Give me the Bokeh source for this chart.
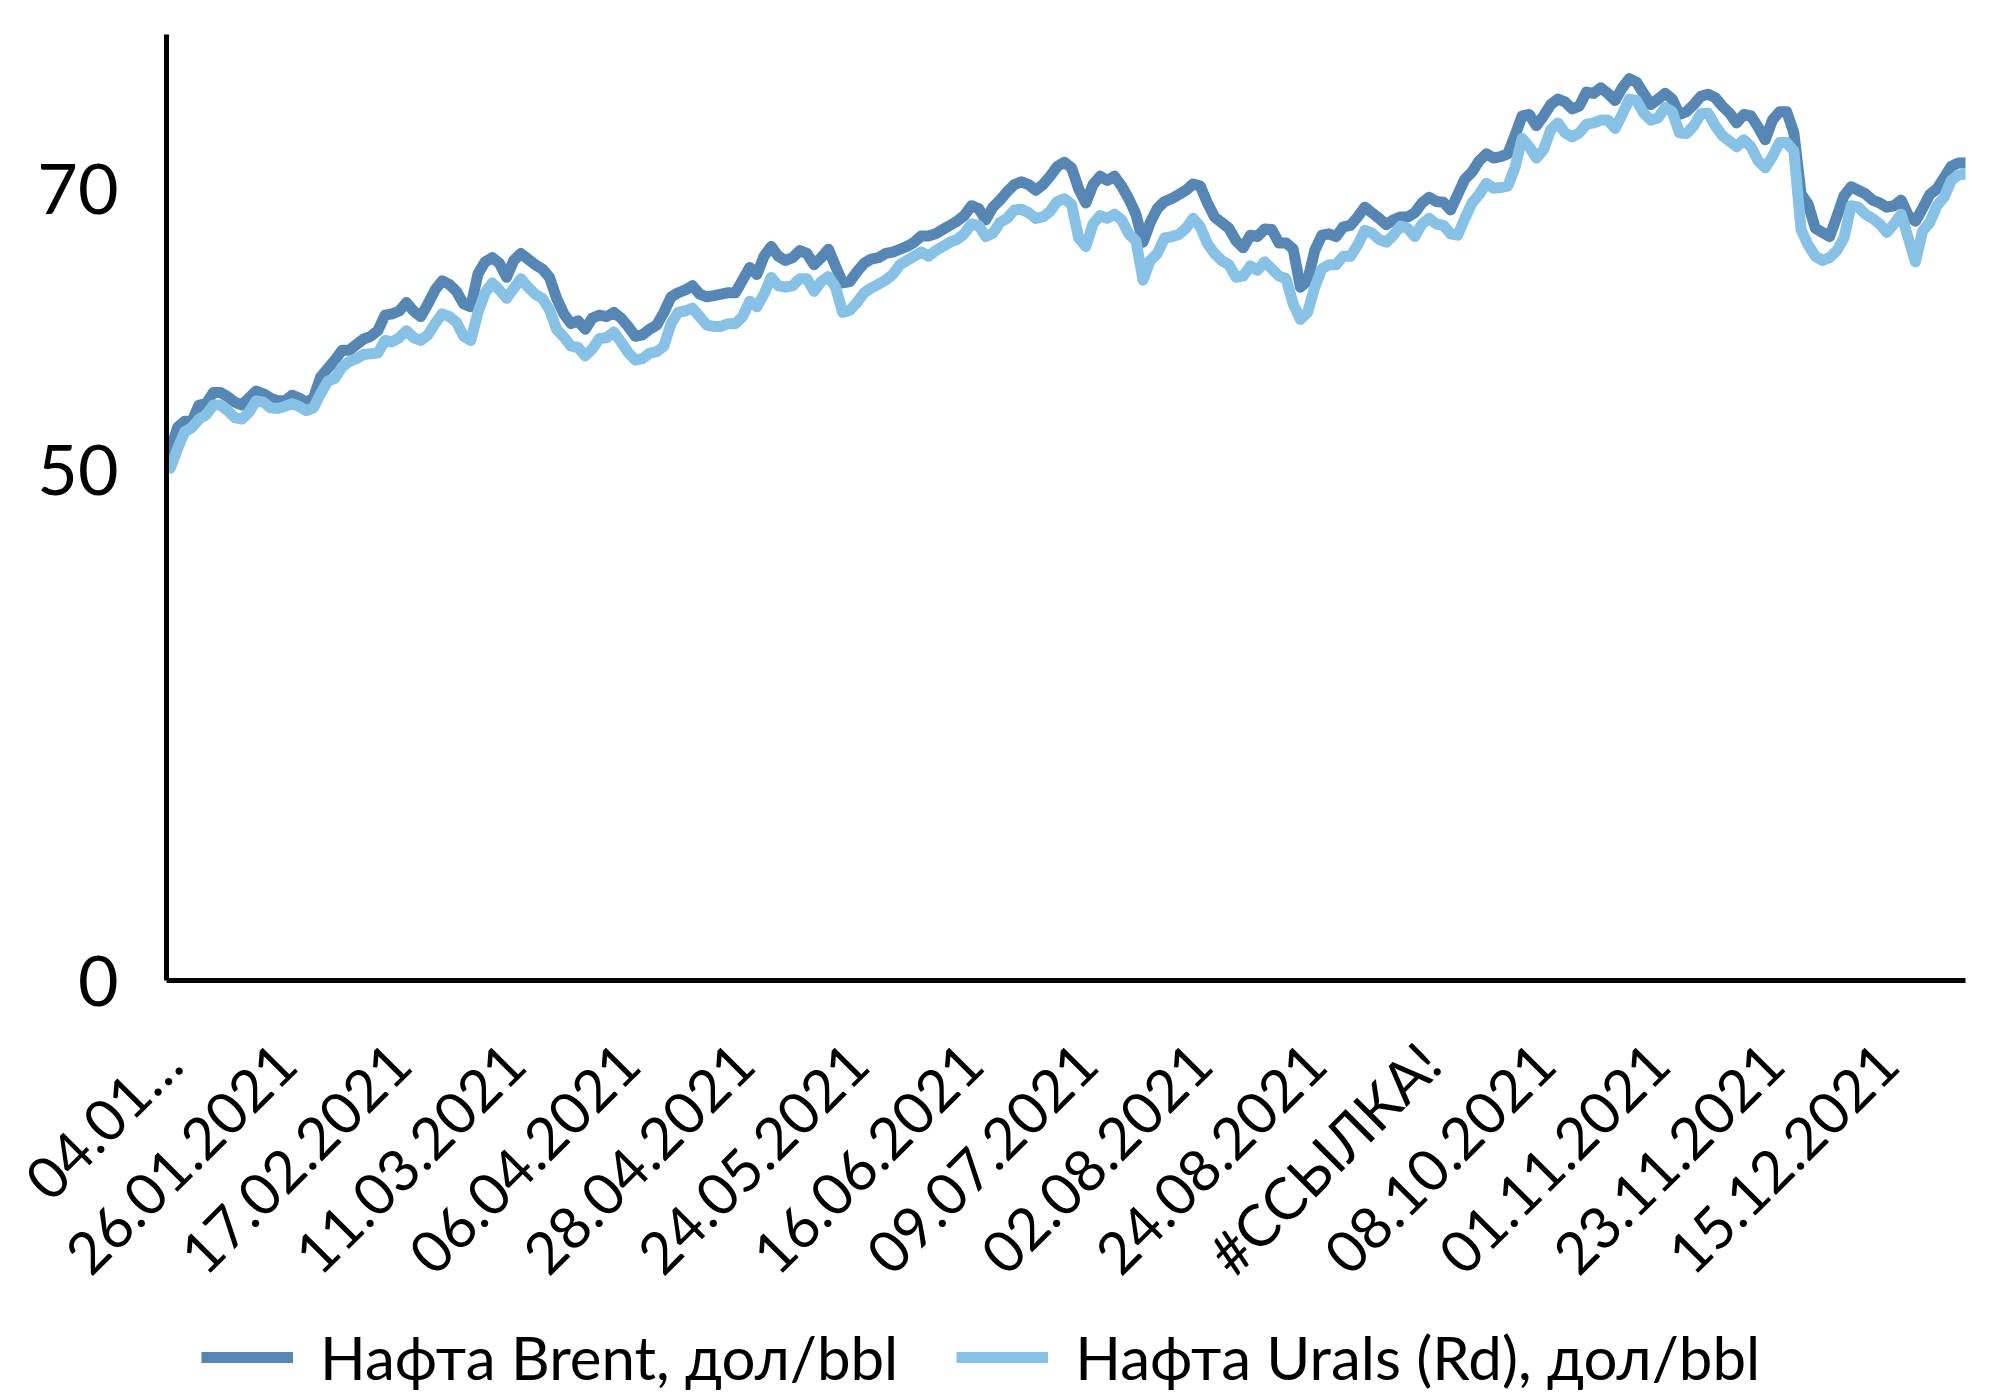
from math import pi
from bokeh.plotting import figure
from bokeh.layouts import column
from bokeh.models import Range1d, FixedTicker, Legend, LegendItem, ColumnDataSource
from bokeh.embed import file_html
from bokeh.resources import INLINE

# ---- data ----
tick_labels = ["04.01…", "26.01.2021", "17.02.2021", "11.03.2021", "06.04.2021",
               "28.04.2021", "24.05.2021", "16.06.2021", "09.07.2021", "02.08.2021",
               "24.08.2021", "#ССЫЛКА!", "08.10.2021", "01.11.2021", "23.11.2021",
               "15.12.2021"]
tick_step = 16

brent = [
    51.35, 53.0, 53.45, 53.45, 54.6, 54.7, 55.5, 55.5, 55.2, 54.8,
    54.6, 55.1, 55.6, 55.4, 55.1, 54.9, 54.9, 55.3, 55.1, 54.8,
    55.1, 56.6, 57.2, 57.8, 58.5, 58.5, 58.9, 59.3, 59.5, 59.9,
    61.0, 61.1, 61.3, 61.9, 61.3, 60.9, 61.8, 62.8, 63.45, 63.2,
    62.7, 61.8, 61.6, 63.95, 64.8, 65.1, 64.7, 63.7, 64.9, 65.4,
    65.0, 64.6, 64.3, 63.7, 62.2, 61.1, 60.4, 60.6, 60.0, 60.8,
    61.0, 60.9, 61.2, 60.8, 60.2, 59.5, 59.6, 60.0, 60.3, 61.2,
    62.3, 62.6, 62.8, 63.1, 62.5, 62.3, 62.4, 62.5, 62.6, 62.6,
    63.5, 64.4, 63.9, 65.2, 65.9, 65.2, 64.9, 65.1, 65.6, 65.4,
    64.6, 65.1, 65.7, 64.5, 63.3, 63.4, 64.1, 64.7, 65.0, 65.1,
    65.4, 65.5, 65.7, 65.9, 66.2, 66.65, 66.65, 66.8, 67.1, 67.4,
    67.7, 68.1, 68.8, 68.6, 67.8, 68.7, 69.2, 69.8, 70.3, 70.5,
    70.3, 69.9, 70.3, 70.9, 71.6, 71.9, 71.5, 70.0, 69.0, 70.3,
    70.9, 70.6, 70.9, 70.2, 69.3, 68.2, 66.2, 67.6, 68.6, 69.1,
    69.3, 69.6, 69.9, 70.35, 70.2, 69.0, 68.0, 67.6, 67.2, 66.3,
    65.8, 66.7, 66.6, 67.15, 67.1, 66.15, 66.15, 65.7, 63.0, 63.45,
    65.6, 66.7, 66.8, 66.6, 67.3, 67.4, 68.0, 68.7, 68.3, 67.9,
    67.45, 67.8, 68.0, 68.0, 68.3, 69.0, 69.4, 69.1, 69.05, 68.5,
    69.6, 70.7, 71.2, 72.0, 72.5, 72.2, 72.3, 72.5, 73.8, 75.2,
    75.3, 74.5, 75.2, 76.0, 76.4, 76.2, 75.7, 75.9, 76.9, 76.8,
    77.2, 76.8, 76.3, 77.2, 77.85, 77.6, 76.8, 76.0, 76.4, 76.8,
    76.4, 75.3, 75.5, 76.0, 76.6, 76.75, 76.5, 75.9, 75.4, 74.7,
    75.3, 75.2, 74.4, 73.5, 74.9, 75.5, 75.5, 74.0, 69.65, 68.9,
    67.2, 66.9, 66.6, 68.0, 69.5, 70.15, 69.9, 69.65, 69.2, 69.0,
    68.7, 68.8, 69.2, 68.1, 67.7, 68.6, 69.6, 70.0, 70.8, 71.6,
    71.85, 71.85,
]

urals = [
    50.1, 51.5, 52.7, 53.0, 53.6, 53.9, 54.6, 54.6, 54.2, 53.7,
    53.6, 54.1, 54.9, 54.8, 54.4, 54.35, 54.5, 54.7, 54.5, 54.2,
    54.4, 55.4, 56.3, 56.5, 57.3, 57.7, 57.9, 58.2, 58.25, 58.3,
    59.2, 59.1, 59.4, 59.9, 59.4, 59.2, 59.6, 60.4, 61.1, 60.9,
    60.5, 59.5, 59.2, 61.2, 62.6, 63.3, 62.8, 62.2, 62.9, 63.6,
    63.0, 62.5, 62.2, 61.4, 60.0, 59.45, 58.8, 58.7, 58.1, 58.6,
    59.35, 59.4, 59.8, 59.1, 58.35, 57.8, 57.9, 58.3, 58.4, 58.8,
    60.4, 61.2, 61.3, 61.5, 60.9, 60.3, 60.2, 60.2, 60.4, 60.4,
    60.9, 62.0, 61.6, 62.5, 63.7, 63.1, 63.0, 63.1, 63.6, 63.6,
    62.7, 63.4, 63.75, 63.0, 61.2, 61.35, 61.9, 62.6, 62.95, 63.2,
    63.5, 63.9, 64.6, 64.9, 65.2, 65.5, 65.2, 65.6, 65.9, 66.2,
    66.4, 66.8, 67.5, 67.4, 66.6, 66.85, 67.6, 67.9, 68.5, 68.55,
    68.3, 67.9, 68.0, 68.4, 69.1, 69.3, 68.9, 66.5, 65.9, 67.5,
    68.1, 67.9, 68.2, 67.8, 66.8, 66.3, 63.5, 64.9, 65.4, 66.5,
    66.6, 66.75, 67.2, 67.9, 67.3, 66.1, 65.4, 64.9, 64.6, 63.7,
    63.8, 64.5, 64.2, 64.8, 64.3, 63.8, 63.6, 61.8, 60.7, 61.2,
    63.0, 64.3, 64.6, 64.6, 65.2, 65.2, 66.0, 67.05, 66.85, 66.4,
    66.2, 66.7, 67.35, 67.2, 66.6, 67.5, 67.9, 67.5, 67.4, 66.8,
    66.7, 67.9, 69.0, 69.6, 70.4, 70.05, 70.1, 70.2, 71.5, 73.6,
    73.0, 72.2, 72.8, 74.2, 74.7, 74.0, 73.7, 74.0, 74.6, 74.7,
    74.9, 74.9, 74.3, 75.3, 76.4, 76.3, 75.4, 74.9, 75.05, 75.8,
    75.5, 74.0, 73.95, 74.5, 75.35, 75.4, 74.5, 73.8, 73.4, 73.0,
    73.5, 73.0, 72.0, 71.5, 72.3, 73.3, 73.3, 72.7, 67.1, 66.0,
    65.2, 64.9, 65.1, 65.6, 66.5, 68.8, 68.7, 68.2, 67.9, 67.5,
    66.9, 67.5, 68.2, 66.5, 64.8, 67.0, 67.6, 68.8, 69.4, 70.6,
    71.0, 71.05,
]

series_names = ["Нафта Brent, дол/bbl", "Нафта Urals (Rd), дол/bbl"]
y_tick_values = [13.6, 50, 70]
y_tick_labels = ["0", "50", "70"]

# ---- styles ----
BRENT_COLOR = "#5686b4"
URALS_COLOR = "#87c1e5"
FONT = "Lato"
LW = 11

days = list(range(len(brent)))
src = ColumnDataSource(dict(day=days, brent=brent, urals=urals))

p = figure(width=1980, height=1315, output_backend="svg", toolbar_location=None,
           x_range=Range1d(-0.55, len(brent) - 1), y_range=Range1d(13.6, 81.0))
p.min_border_left = 166
p.min_border_right = 15
p.min_border_top = 34
p.min_border_bottom = 334
p.outline_line_color = None
p.background_fill_color = "white"
p.border_fill_color = "white"
p.xgrid.visible = False
p.ygrid.visible = False

r1 = p.line("day", "brent", source=src, line_color=BRENT_COLOR, line_width=LW,
            line_join="round", line_cap="round")
r2 = p.line("day", "urals", source=src, line_color=URALS_COLOR, line_width=LW,
            line_join="round", line_cap="round")

# x axis
x_ticks = [i * tick_step for i in range(len(tick_labels))]
xa = p.xaxis[0]
xa.ticker = FixedTicker(ticks=x_ticks)
xa.major_label_overrides = {t: lab for t, lab in zip(x_ticks, tick_labels)}
xa.major_label_orientation = pi / 4
xa.major_label_text_font = FONT
xa.major_label_text_font_size = "58px"
xa.major_label_text_color = "black"
xa.major_label_standoff = 72
xa.major_tick_in = 0
xa.major_tick_out = 0
xa.minor_tick_line_color = None
xa.axis_line_color = "black"
xa.axis_line_width = 5

# y axis
ya = p.yaxis[0]
ya.ticker = FixedTicker(ticks=y_tick_values)
ya.major_label_overrides = {t: lab for t, lab in zip(y_tick_values, y_tick_labels)}
ya.major_label_text_font = FONT
ya.major_label_text_font_size = "70px"
ya.major_label_text_color = "black"
ya.major_label_standoff = 48
ya.major_tick_in = 0
ya.major_tick_out = 0
ya.minor_tick_line_color = None
ya.axis_line_color = "black"
ya.axis_line_width = 5

# legend strip underneath (its own small figure, so the legend is not clipped)
pl = figure(width=1980, height=78, output_backend="svg", toolbar_location=None,
            x_range=Range1d(0, 1), y_range=Range1d(0, 1),
            x_axis_location=None, y_axis_location=None)
pl.min_border_left = 0
pl.min_border_right = 0
pl.min_border_top = 0
pl.min_border_bottom = 0
pl.outline_line_color = None
pl.xgrid.visible = False
pl.ygrid.visible = False
# key renderers for the legend swatches (drawn outside the visible range)
k1 = pl.line(x=[-10, -9], y=[-10, -10], line_color=BRENT_COLOR, line_width=LW)
k2 = pl.line(x=[-10, -9], y=[-10, -10], line_color=URALS_COLOR, line_width=LW)

legend = Legend(items=[LegendItem(label=series_names[0], renderers=[k1]),
                       LegendItem(label=series_names[1], renderers=[k2])],
                orientation="horizontal", location=(35, 0),
                label_text_font=FONT, label_text_font_size="60px",
                label_text_color="black", glyph_width=92, glyph_height=40,
                label_standoff=27, spacing=58, padding=0, margin=0,
                border_line_color=None, background_fill_alpha=0)
pl.add_layout(legend, "center")

layout = column(p, pl, spacing=0)
open("out.html", "w").write(file_html(layout, INLINE))
